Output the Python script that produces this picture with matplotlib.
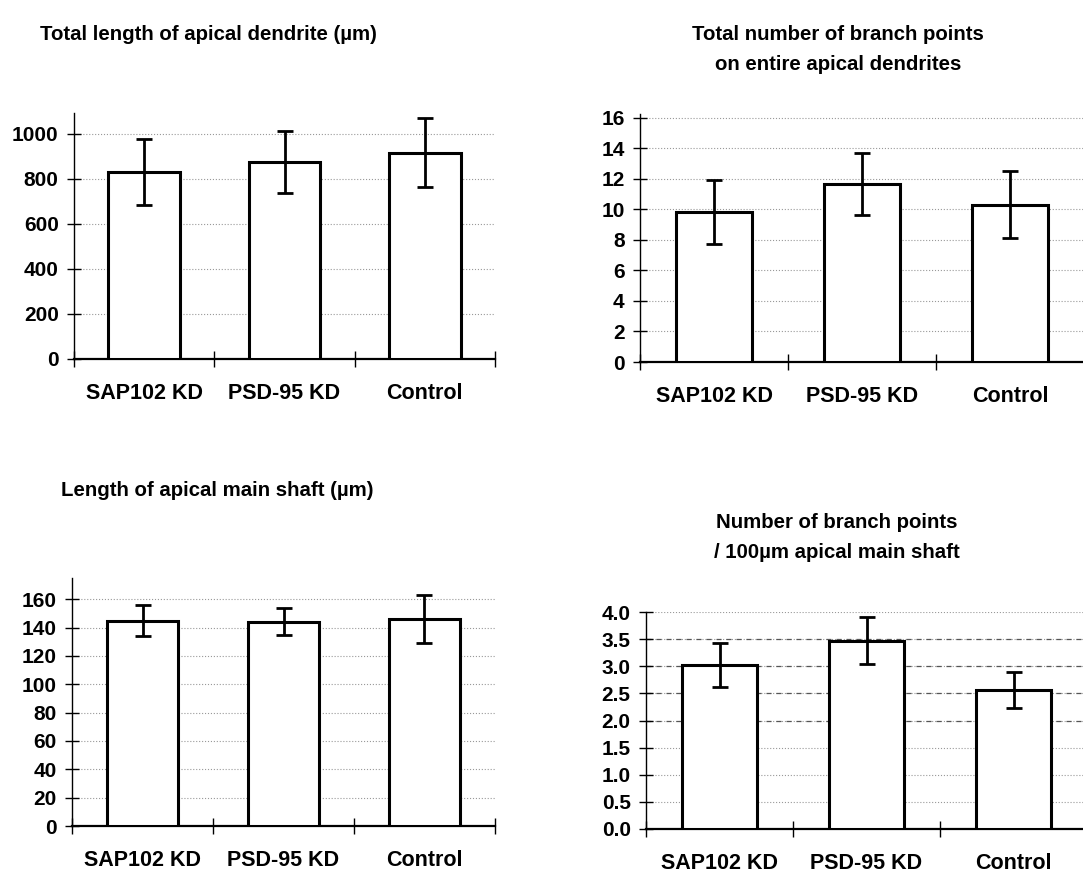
import matplotlib.pyplot as plt
from matplotlib.ticker import FixedLocator, FormatStrFormatter

plt.rcParams['font.family'] = ['Liberation Sans', 'DejaVu Sans']

groups = ["SAP102 KD", "PSD-95 KD", "Control"]

total_len = [832, 874, 917]
total_len_err = [147, 137, 152]

branch_total = [9.8, 11.65, 10.3]
branch_total_err = [2.1, 2.05, 2.2]

shaft_len = [145, 144, 146]
shaft_len_err = [11, 9.5, 17]

branch_per100 = [3.02, 3.47, 2.56]
branch_per100_err = [0.40, 0.43, 0.33]

W, H = 1083, 877
fig = plt.figure(figsize=(W / 100, H / 100), dpi=100)


def px_axes(x0, x1, y0, y1):
    # rectangle given in pixel coords (top-left origin)
    return fig.add_axes([x0 / W, 1 - y1 / H, (x1 - x0) / W, (y1 - y0) / H])


def bar_panel(ax, vals, errs, ymax, yticks, fmt, grid_style=':'):
    x = range(len(groups))
    ax.bar(x, vals, width=0.51, color='white', edgecolor='black', linewidth=2.2, zorder=3)
    ax.errorbar(x, vals, yerr=errs, fmt='none', ecolor='black', elinewidth=2,
                capsize=6, capthick=2, zorder=4)
    ax.set_xlim(-0.5, 2.5)
    ax.set_ylim(0, ymax)
    ax.set_yticks(yticks)
    ax.yaxis.set_major_formatter(FormatStrFormatter(fmt))
    ax.set_xticks(list(x))
    ax.set_xticklabels(groups, fontsize=15.5, fontweight='bold')
    ax.xaxis.set_minor_locator(FixedLocator([-0.5, 0.5, 1.5, 2.5]))
    ax.tick_params(axis='x', which='major', length=0, pad=17)
    ax.tick_params(axis='x', which='minor', length=12, direction='inout', width=1)
    ax.tick_params(axis='y', length=10, direction='inout', width=1, labelsize=15, pad=6)
    for lab in ax.get_yticklabels():
        lab.set_fontweight('bold')
    for s in ('top', 'right'):
        ax.spines[s].set_visible(False)
    ax.spines['left'].set_linewidth(1)
    ax.spines['bottom'].set_linewidth(1.6)
    for t in yticks[1:]:
        ax.axhline(t, color='#999999', linestyle=grid_style, linewidth=0.8, zorder=1)


ax1 = px_axes(74, 495, 113, 359)
bar_panel(ax1, total_len, total_len_err, 1093, [0, 200, 400, 600, 800, 1000], '%d')

ax2 = px_axes(640, 1084, 114, 362)
bar_panel(ax2, branch_total, branch_total_err, 16.25, list(range(0, 17, 2)), '%d')

ax3 = px_axes(72, 495, 578, 826)
bar_panel(ax3, shaft_len, shaft_len_err, 175, list(range(0, 161, 20)), '%d')

ax4 = px_axes(646, 1087, 612, 829)
bar_panel(ax4, branch_per100, branch_per100_err, 4.0,
          [0, 0.5, 1.0, 1.5, 2.0, 2.5, 3.0, 3.5, 4.0], '%.1f')
# darker dashed lines across the upper range
for t in [2.0, 2.5, 3.0, 3.5]:
    ax4.axhline(t, color='#555555', linestyle=(0, (4, 4)), linewidth=0.9, zorder=1)

title_kw = dict(fontsize=14.7, fontweight='bold', ha='center', va='center',
                family=['Liberation Sans Narrow', 'Liberation Sans', 'DejaVu Sans'])
fig.text(208 / W, 1 - 34 / H, "Total length of apical dendrite (µm)", **title_kw)
fig.text(838 / W, 1 - 35 / H, "Total number of branch points", **title_kw)
fig.text(838 / W, 1 - 65 / H, "on entire apical dendrites", **title_kw)
fig.text(217 / W, 1 - 490 / H, "Length of apical main shaft (µm)", **title_kw)
fig.text(837 / W, 1 - 522 / H, "Number of branch points", **title_kw)
fig.text(837 / W, 1 - 552 / H, "/ 100µm apical main shaft", **title_kw)

fig.savefig('out.png', dpi=100)
